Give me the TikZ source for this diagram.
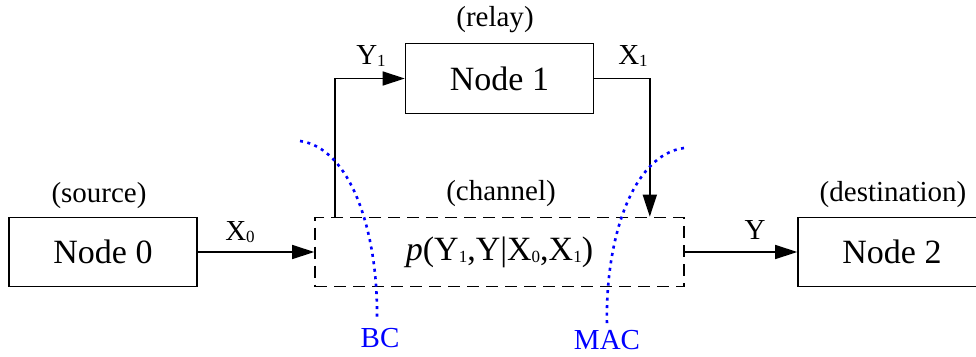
\documentclass[tikz,border=0pt]{standalone}
\usepackage{fontspec}
\setmainfont{Liberation Serif}
\usetikzlibrary{arrows.meta}
\newcommand\sbs[1]{\raisebox{-2pt}{\fontsize{17}{20}\selectfont #1}}
\begin{document}
\begin{tikzpicture}[x=1pt,y=-1pt,
  box/.style={draw,line width=1.6pt,minimum width=188pt,minimum height=69pt,inner sep=0pt,font=\fontsize{34}{40}\selectfont},
  chbox/.style={draw,line width=1.6pt,dash pattern=on 12pt off 7pt,minimum width=369pt,minimum height=69pt,inner sep=0pt,font=\fontsize{34}{40}\selectfont},
  lbl/.style={inner sep=0pt,font=\fontsize{29}{32}\selectfont},
  arr/.style={line width=1.6pt,-{Triangle[length=22pt,width=14pt]}},
  bnd/.style={blue,line width=2.6pt,dash pattern=on 3pt off 4.5pt},
  bl/.style={inner sep=0pt,text=blue,font=\fontsize{29}{32}\selectfont}]
\useasboundingbox (0,0) rectangle (976,356);
\clip (0,0) rectangle (976,356);
\node[box] (n0) at (103,252) {Node 0};
\node[box,minimum height=70pt] (n1) at (499.5,78.5) {Node 1};
\node[box] (n2) at (892,252) {Node 2};
\node[chbox] (ch) at (499.5,252) {\textit{p}(Y\sbs{1},Y|X\sbs{0},X\sbs{1})};
\node[lbl] (ls) at (99,196) {(source)};
\node[lbl] (lr) at (495,20) {(relay)};
\node[lbl] (lc) at (501,194) {(channel)};
\node[lbl] (ld) at (893,195) {(destination)};
\node[lbl] (lx0) at (240,232) {X\sbs{0}};
\node[lbl] (ly1) at (371,56) {Y\sbs{1}};
\node[lbl] (lx1) at (633,56) {X\sbs{1}};
\node[lbl] (ly) at (755,230) {Y};
\draw[arr] (n0.east) -- (ch.west);
\draw[arr] (ch.east) -- (n2.west);
\draw[arr] ([xshift=21pt]ch.north west) |- (n1.west);
\draw[arr] (n1.east) -| ([xshift=-35pt]ch.north east);
\coordinate (bc1) at (300,141);
\coordinate (bc2) at (377,318);
\coordinate (mc1) at (684,148);
\coordinate (mc2) at (607,325);
\draw[bnd] (bc1) .. controls (350,148) and (378,230) .. (bc2);
\draw[bnd] (mc1) .. controls (632,155) and (605,240) .. (mc2);
\node[bl] (bc) at (380,338) {BC};
\node[bl] (mac) at (607,340) {MAC};
\end{tikzpicture}
\end{document}
